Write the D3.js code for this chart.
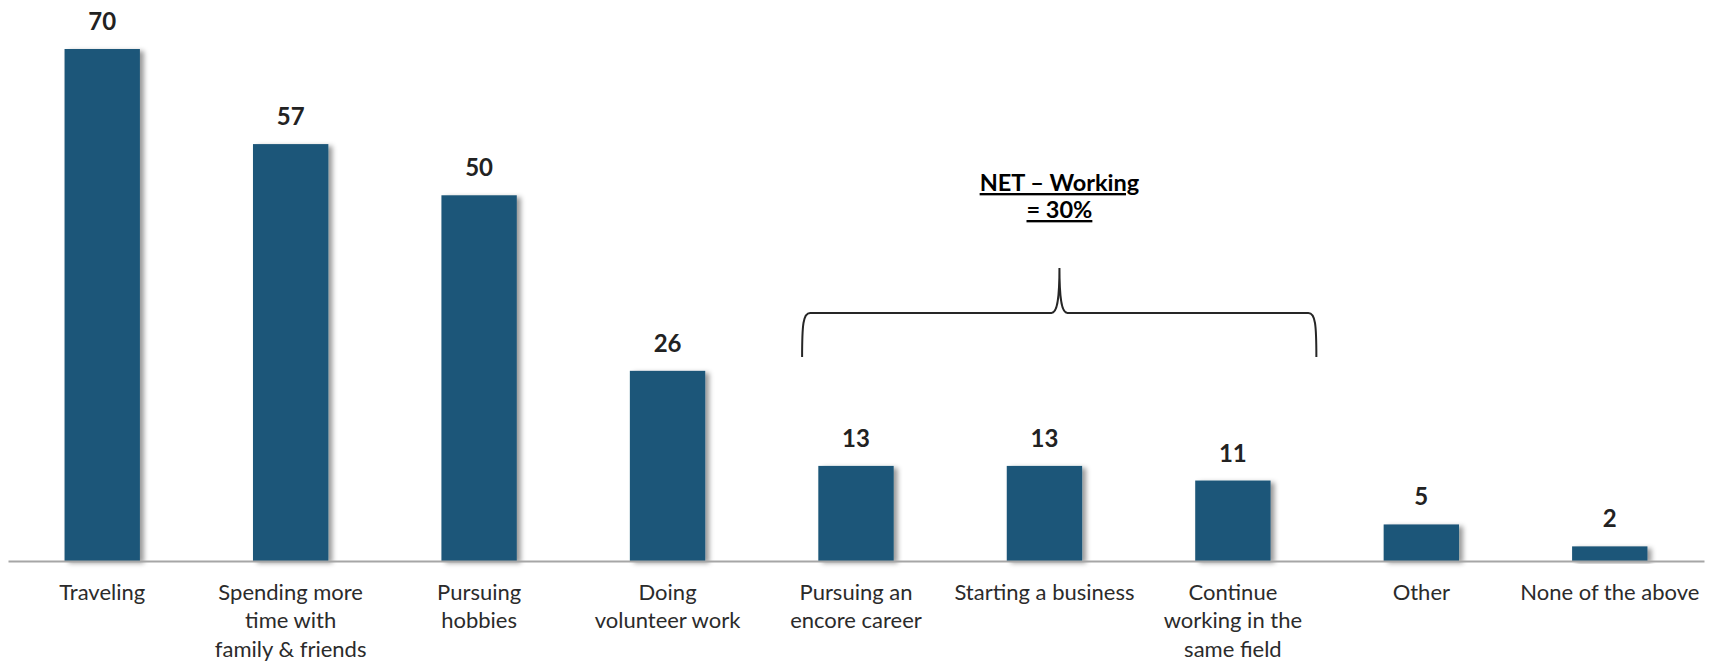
<!DOCTYPE html>
<html>
<head>
<meta charset="utf-8">
<script src="https://cdn.jsdelivr.net/npm/d3@7/dist/d3.min.js"></script>
<style>
  html, body { margin: 0; padding: 0; background: #ffffff; }
  svg { display: block; }
  text { font-family: Lato, "Open Sans", sans-serif; }
</style>
</head>
<body>
<svg id="chart" width="1715" height="661"></svg>
<script>
// Share of respondents planning each activity (%)
const categories = [
  "Traveling",
  "Spending more\ntime with\nfamily & friends",
  "Pursuing\nhobbies",
  "Doing\nvolunteer work",
  "Pursuing an\nencore career",
  "Starting a business",
  "Continue\nworking in the\nsame field",
  "Other",
  "None of the above"
];
const values = [70, 57, 50, 26, 13, 13, 11, 5, 2];

// Working-related group summarised by the brace
const netTitle = ["NET \u2013 Working"];
const netValues = [30];
const netFirst = 4, netLast = 6;

const svg = d3.select("#chart");

const x = d3.scaleBand()
  .domain(categories)
  .range([8, 1704])
  .paddingInner(0.6)
  .paddingOuter(0.3);

const y = d3.scaleLinear()
  .domain([0, 70])
  .range([561, 49]);

// soft drop shadow on the bars
const defs = svg.append("defs");
const f = defs.append("filter").attr("id", "shadow")
  .attr("x", "-20%").attr("y", "-20%").attr("width", "150%").attr("height", "140%");
f.append("feDropShadow")
  .attr("dx", 4).attr("dy", 2).attr("stdDeviation", 2.4)
  .attr("flood-color", "#000").attr("flood-opacity", 0.4);

const data = categories.map((c, i) => ({ c, v: values[i] }));

svg.append("g").selectAll("rect")
  .data(data)
  .join("rect")
  .attr("x", d => x(d.c))
  .attr("y", d => y(d.v))
  .attr("width", x.bandwidth())
  .attr("height", d => y(0) - y(d.v))
  .attr("fill", "#1e5779")
  .attr("filter", "url(#shadow)");

// value labels
svg.append("g").selectAll("text")
  .data(data)
  .join("text")
  .attr("x", d => x(d.c) + x.bandwidth() / 2)
  .attr("y", d => y(d.v) - 19)
  .attr("text-anchor", "middle")
  .attr("font-size", 24)
  .attr("font-weight", 700)
  .attr("fill", "#222222")
  .text(d => d.v);

// category axis with multi-line labels
const axis = svg.append("g")
  .attr("transform", `translate(0,${y(0)})`)
  .call(d3.axisBottom(x).tickSize(0).tickSizeOuter(0).tickPadding(0));

axis.select(".domain")
  .attr("stroke", "#a6a6a6")
  .attr("stroke-width", 2);

axis.selectAll(".tick text")
  .attr("font-family", "Lato, 'Open Sans', sans-serif")
  .attr("font-size", 22)
  .attr("fill", "#2b2b2b")
  .attr("dy", null)
  .attr("y", 0)
  .each(function (d) {
    const t = d3.select(this);
    const lines = d.split("\n");
    t.text(null);
    lines.forEach((ln, k) => {
      t.append("tspan")
        .attr("x", 0)
        .attr("y", 39 + k * 28.4)
        .text(ln);
    });
  });

// brace over the working-related bars
const cx = i => x(categories[i]) + x.bandwidth() / 2;
const step = x.step();
const bl = cx(netFirst) - 0.286 * step;
const br = cx(netLast) + 0.443 * step;
const tip = cx(5) + 15;
const yb = 357, yh = 313, yt = 268;

const brace = d3.path();
brace.moveTo(bl, yb);
brace.bezierCurveTo(bl, yh + 12, bl + 1, yh, bl + 8, yh);
brace.lineTo(tip - 8, yh);
brace.bezierCurveTo(tip - 3, yh, tip, yh - 10, tip, yt);
brace.bezierCurveTo(tip, yh - 10, tip + 3, yh, tip + 8, yh);
brace.lineTo(br - 8, yh);
brace.bezierCurveTo(br - 1, yh, br, yh + 12, br, yb);

svg.append("path")
  .attr("d", brace.toString())
  .attr("fill", "none")
  .attr("stroke", "#262626")
  .attr("stroke-width", 2);

const ann = svg.append("text")
  .attr("x", tip)
  .attr("text-anchor", "middle")
  .attr("font-size", 23.5)
  .attr("font-weight", 700)
  .attr("fill", "#000000")
  .attr("text-decoration", "underline");
ann.append("tspan").attr("x", tip).attr("y", 191).text(netTitle[0]);
ann.append("tspan").attr("x", tip).attr("y", 218).text("= " + netValues[0] + "%");
</script>
</body>
</html>
